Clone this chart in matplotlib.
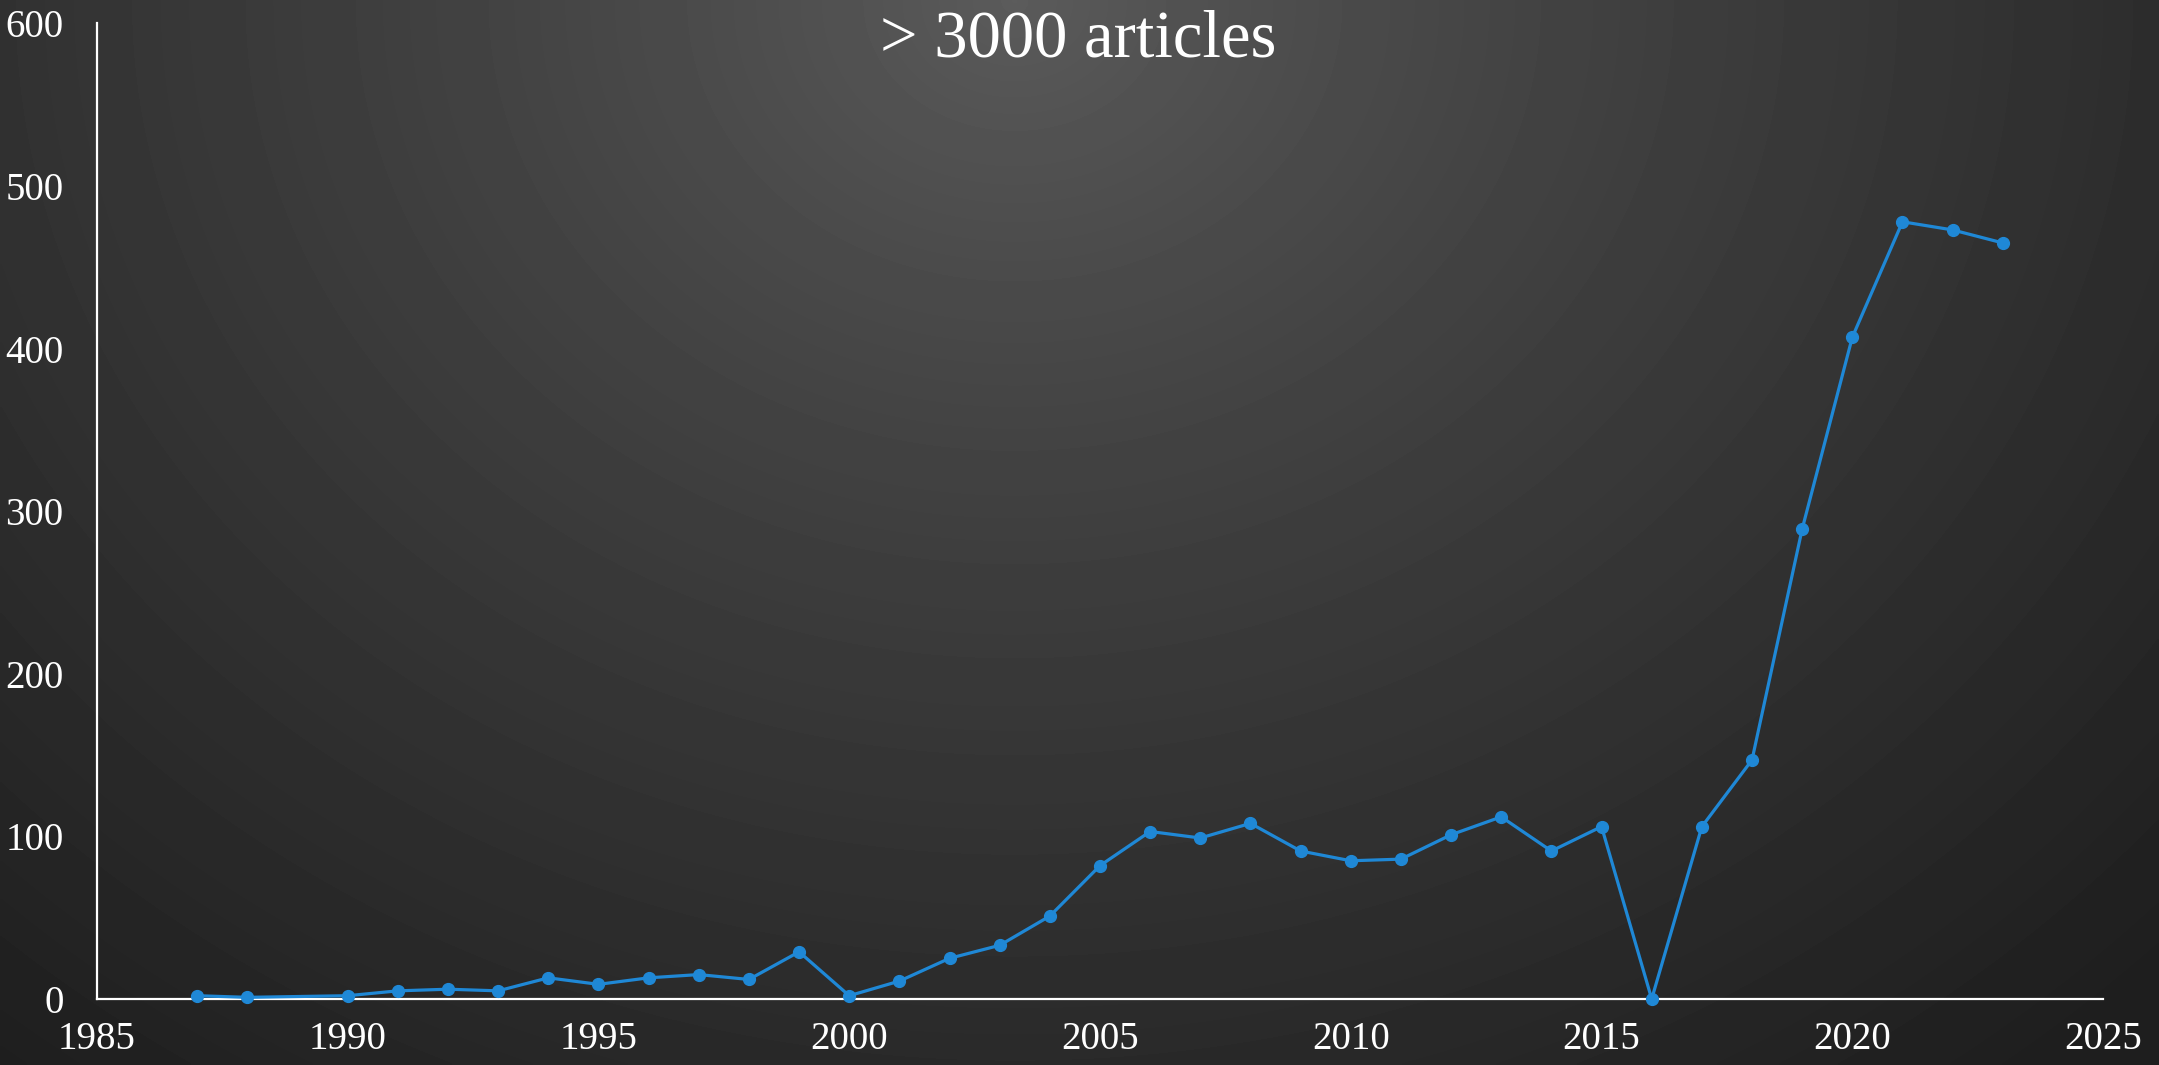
import numpy as np
import matplotlib
matplotlib.use("Agg")
import matplotlib.pyplot as plt

# values
years = [1987, 1988, 1990, 1991, 1992, 1993, 1994, 1995, 1996, 1997, 1998, 1999,
         2000, 2001, 2002, 2003, 2004, 2005, 2006, 2007, 2008, 2009, 2010, 2011,
         2012, 2013, 2014, 2015, 2016, 2017, 2018, 2019, 2020, 2021, 2022, 2023]
articles = [2, 1, 2, 5, 6, 5, 13, 9, 13, 15, 12, 29,
            2, 11, 25, 33, 51, 82, 103, 99, 108, 91, 85, 86,
            101, 112, 91, 106, 0, 106, 147, 289, 407, 478, 473, 465]
y_ticks = [0, 100, 200, 300, 400, 500, 600]
x_ticks = [1985, 1990, 1995, 2000, 2005, 2010, 2015, 2020, 2025]
title = "> 3000 articles"

plt.rcParams['font.family'] = ['Liberation Serif', 'DejaVu Serif']

fig = plt.figure(figsize=(21.59, 10.65), dpi=100)

# radial dark-gray background, lighter near the top centre
bg = fig.add_axes([0, 0, 1, 1], zorder=-10)
gx, gy = np.meshgrid(np.linspace(0, 1, 600), np.linspace(1, 0, 300))
d = np.sqrt(((gx - 0.47) / 0.75) ** 2 + ((gy - 1.0) / 1.3) ** 2)
shade = np.clip(0x5c - (0x5c - 0x1e) * np.clip(d, 0, 1) ** 0.8, 0, 255) / 255.0
bg.imshow(shade, cmap="gray", vmin=0, vmax=1, aspect="auto", extent=[0, 1, 0, 1],
          interpolation="bilinear")
bg.axis("off")

ax = fig.add_axes([0.0449, 0.062, 0.9292, 0.916])
ax.patch.set_alpha(0)

ax.plot(years, articles, color="#1f88d6", linewidth=2.3, marker="o",
        markersize=8.5, clip_on=False, zorder=3)

ax.set_xlim(1985, 2025)
ax.set_ylim(0, 600)
ax.set_xticks(x_ticks)
ax.set_yticks(y_ticks)

for side in ["top", "right"]:
    ax.spines[side].set_visible(False)
for side in ["left", "bottom"]:
    ax.spines[side].set_color("white")
    ax.spines[side].set_linewidth(1.6)

ax.tick_params(axis="both", length=0, colors="white", labelsize=28)
ax.tick_params(axis="y", pad=24)
ax.tick_params(axis="x", pad=16)

fig.text(0.4995, 0.962, title, color="white", fontsize=48,
         ha="center", va="center")

fig.savefig("out.png", dpi=100)
